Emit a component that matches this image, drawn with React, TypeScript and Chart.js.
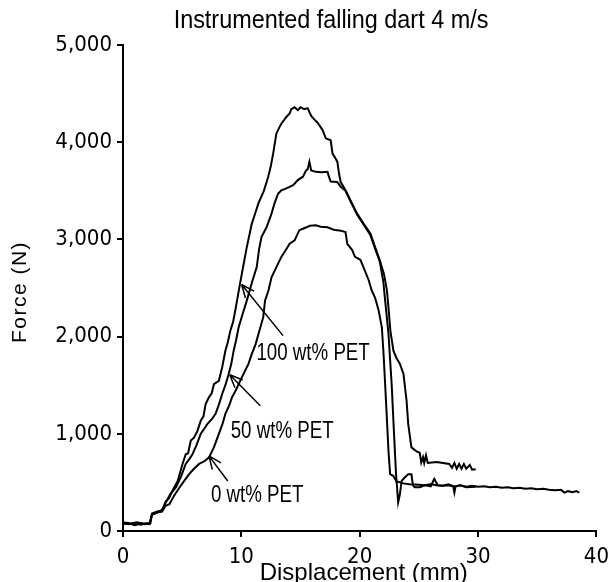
import React, { useEffect, useRef } from "react";
import { Chart, registerables } from "chart.js";

Chart.register(...registerables);

// ---- Data (displacement in mm, force in N) ----
const disp100 = [0, 0.5, 1.0, 1.5, 2.0, 2.3, 2.45, 2.9, 3.3, 3.6, 3.9, 4.2, 4.62, 5.03, 5.3, 5.5, 5.73, 6.0, 6.29, 6.57, 6.8, 6.98, 7.26, 7.5, 7.68, 8.1, 8.38, 8.65, 8.85, 9.07, 9.3, 9.49, 9.75, 10.04, 10.46, 10.88, 11.2, 11.44, 11.9, 12.27, 12.5, 12.69, 12.96, 13.2, 13.38, 13.8, 14.08, 14.22, 14.5, 14.77, 15.0, 15.3, 15.6, 15.9, 16.2, 16.44, 16.86, 17.14, 17.55, 17.7, 18.11, 18.25, 18.39, 18.8, 19.22, 19.78, 20.34, 20.9, 21.3, 21.7, 22.05, 22.3, 22.45, 22.6, 22.85, 23.1, 23.4, 23.7, 23.96, 24.1, 24.37, 24.8, 25.07, 25.2, 25.35, 25.45, 25.6, 25.75, 26.5, 27.57, 27.8, 28.0, 28.2, 28.4, 28.6, 28.8, 29.0, 29.3, 29.5, 29.8];
const force100 = [80, 70, 85, 65, 80, 75, 180, 200, 210, 300, 340, 420, 515, 690, 790, 800, 930, 960, 1030, 1135, 1180, 1305, 1375, 1420, 1510, 1545, 1685, 1855, 1940, 2060, 2150, 2270, 2450, 2645, 2920, 3160, 3280, 3370, 3500, 3645, 3760, 3885, 4090, 4150, 4190, 4260, 4295, 4340, 4360, 4330, 4360, 4340, 4350, 4270, 4230, 4200, 4125, 4040, 4020, 3885, 3800, 3680, 3590, 3505, 3400, 3265, 3160, 3060, 2920, 2785, 2645, 2475, 2270, 2050, 1855, 1780, 1720, 1615, 1340, 1100, 860, 820, 805, 705, 760, 700, 780, 700, 710, 690, 650, 700, 640, 690, 640, 690, 640, 680, 630, 635];

const disp50 = [0, 0.6, 1.2, 1.8, 2.3, 2.45, 2.9, 3.3, 3.6, 4.0, 4.48, 4.9, 5.3, 5.6, 5.87, 6.2, 6.57, 6.85, 7.12, 7.5, 7.82, 8.1, 8.38, 8.65, 8.93, 9.15, 9.35, 9.55, 9.77, 10.1, 10.46, 10.9, 11.3, 11.5, 11.7, 12.13, 12.55, 12.8, 13.1, 13.38, 13.7, 14.08, 14.4, 14.77, 15.2, 15.47, 15.6, 15.75, 15.9, 16.3, 16.8, 17.28, 17.4, 17.55, 18.1, 18.4, 18.8, 19.22, 19.78, 20.34, 20.9, 21.3, 21.7, 22.0, 22.15, 22.43, 22.7, 22.9, 23.07, 23.25, 23.4, 23.54, 23.8, 24.1, 24.37, 24.5, 24.65, 25.07, 25.5, 26.0, 26.3, 26.6, 27.0, 27.5, 28.0, 28.5, 29.0, 29.8];
const force50 = [90, 75, 90, 70, 80, 175, 195, 215, 290, 380, 450, 560, 690, 740, 790, 880, 1000, 1050, 1100, 1150, 1205, 1300, 1410, 1500, 1615, 1720, 1855, 1960, 2095, 2230, 2370, 2560, 2715, 2900, 3025, 3125, 3265, 3370, 3470, 3505, 3520, 3540, 3560, 3610, 3645, 3710, 3720, 3800, 3710, 3695, 3690, 3695, 3645, 3595, 3590, 3540, 3500, 3395, 3255, 3150, 3045, 2905, 2770, 2560, 2370, 2030, 1510, 1000, 585, 295, 380, 515, 550, 585, 585, 470, 450, 450, 470, 460, 535, 470, 465, 480, 455, 470, 450, 455];

const disp0 = [0, 0.4, 1.0, 1.6, 2.2, 2.45, 2.9, 3.3, 3.6, 3.92, 4.3, 4.76, 5.2, 5.59, 6.0, 6.43, 6.9, 7.26, 7.68, 8.1, 8.4, 8.65, 9.0, 9.21, 9.5, 9.77, 10.0, 10.32, 10.6, 10.88, 11.2, 11.44, 11.85, 12.0, 12.3, 12.55, 12.96, 13.38, 13.7, 14.08, 14.5, 14.9, 15.2, 15.8, 16.3, 16.7, 17.28, 17.8, 18.4, 18.8, 18.95, 19.37, 19.6, 20.06, 20.4, 20.76, 21.0, 21.3, 21.6, 21.87, 22.0, 22.15, 22.29, 22.43, 22.57, 22.85, 23.1, 23.4, 23.7, 24.2, 25.0, 25.5, 26.0, 26.5, 27.0, 27.5, 27.9, 28.0, 28.1, 28.5, 29.0, 29.5, 30.0, 30.5, 31.0, 31.5, 32.0, 32.5, 33.0, 33.5, 34.0, 34.5, 35.0, 35.5, 36.0, 36.5, 37.0, 37.3, 37.6, 38.0, 38.3, 38.56];
const force0 = [70, 85, 60, 80, 70, 165, 190, 200, 260, 275, 360, 445, 520, 585, 640, 690, 720, 755, 860, 1000, 1100, 1205, 1300, 1375, 1440, 1510, 1570, 1650, 1720, 1820, 1920, 2025, 2200, 2370, 2480, 2610, 2715, 2820, 2880, 2955, 2990, 3095, 3110, 3140, 3145, 3130, 3125, 3100, 3090, 3075, 2955, 2890, 2820, 2790, 2690, 2580, 2480, 2400, 2270, 2095, 1855, 1510, 1170, 825, 585, 565, 510, 500, 490, 480, 475, 470, 480, 470, 465, 470, 460, 395, 460, 470, 455, 465, 455, 460, 450, 455, 445, 450, 440, 445, 435, 440, 430, 435, 425, 420, 425, 395, 410, 400, 410, 395];

const seriesNames = ["100 wt% PET", "50 wt% PET", "0 wt% PET"];
// annotation anchors in data units: label left/middle, arrow tip, arrow tail
const labelX = [11.27, 9.1, 7.43];
const labelY = [1825, 1021, 371];
const arrowTipX = [10.02, 9.02, 7.26];
const arrowTipY = [2536, 1608, 773];
const arrowTailX = [13.52, 11.6, 8.85];
const arrowTailY = [2010, 1289, 515];

const xTicks = [0, 10, 20, 30, 40];
const yMax = 5000;

const chartTitle = "Instrumented falling dart 4 m/s";
const xTitle = "Displacement (mm)";
const yTitle = "Force (N)";

const CONDENSED = "'Liberation Sans Narrow', 'DejaVu Sans Condensed', 'Liberation Sans', sans-serif";
const REGULAR = "'Liberation Sans', Arial, sans-serif";

function pts(xs: number[], ys: number[]) {
  return xs.map((x, i) => ({ x, y: ys[i] }));
}

function squeezedText(ctx: CanvasRenderingContext2D, text: string, x: number, y: number, sx: number) {
  ctx.save();
  ctx.translate(x, y);
  ctx.scale(sx, 1);
  ctx.fillText(text, 0, 0);
  ctx.restore();
}

const annotPlugin = {
  id: "annot",
  afterDraw(chart: any) {
    const ctx = chart.ctx as CanvasRenderingContext2D;
    const xs = chart.scales.x;
    const ys = chart.scales.y;
    ctx.save();
    ctx.fillStyle = "#000";
    ctx.strokeStyle = "#000";
    // chart title
    ctx.font = `26px ${REGULAR}`;
    ctx.textAlign = "center";
    ctx.textBaseline = "middle";
    squeezedText(ctx, chartTitle, 331, 21, 0.9);
    // x axis title
    ctx.font = `24px ${REGULAR}`;
    ctx.fillText(xTitle, (chart.chartArea.left + chart.chartArea.right) / 2 + 4, 573);
    // y axis title
    ctx.save();
    ctx.translate(20, 292);
    ctx.rotate(-Math.PI / 2);
    ctx.font = `21px ${REGULAR}`;
    try { (ctx as any).letterSpacing = "1.5px"; } catch (e) {}
    ctx.fillText(yTitle, 0, 0);
    ctx.restore();
    // series labels and arrows
    ctx.font = `24px ${REGULAR}`;
    ctx.textAlign = "left";
    ctx.textBaseline = "middle";
    ctx.lineWidth = 1.5;
    for (let i = 0; i < seriesNames.length; i++) {
      squeezedText(ctx, seriesNames[i], xs.getPixelForValue(labelX[i]), ys.getPixelForValue(labelY[i]), 0.78);
      const tx = xs.getPixelForValue(arrowTipX[i]);
      const ty = ys.getPixelForValue(arrowTipY[i]);
      const sx = xs.getPixelForValue(arrowTailX[i]);
      const sy = ys.getPixelForValue(arrowTailY[i]);
      ctx.beginPath();
      ctx.moveTo(sx, sy);
      ctx.lineTo(tx, ty);
      const ang = Math.atan2(sy - ty, sx - tx);
      const hl = 14;
      ctx.moveTo(tx, ty);
      ctx.lineTo(tx + hl * Math.cos(ang + 0.4), ty + hl * Math.sin(ang + 0.4));
      ctx.moveTo(tx, ty);
      ctx.lineTo(tx + hl * Math.cos(ang - 0.4), ty + hl * Math.sin(ang - 0.4));
      ctx.stroke();
    }
    ctx.restore();
  },
};

export default function App() {
  const ref = useRef<HTMLCanvasElement | null>(null);
  useEffect(() => {
    if (!ref.current) return;
    const mk = (label: string, data: any) => ({
      label,
      data,
      showLine: true,
      borderColor: "#000",
      backgroundColor: "#000",
      borderWidth: 2,
      pointRadius: 0,
      tension: 0,
    });
    const chart = new Chart(ref.current, {
      type: "scatter",
      data: {
        datasets: [
          mk(seriesNames[0], pts(disp100, force100)),
          mk(seriesNames[1], pts(disp50, force50)),
          mk(seriesNames[2], pts(disp0, force0)),
        ],
      },
      options: {
        animation: false,
        responsive: false,
        devicePixelRatio: 1,
        layout: { padding: { top: 45, right: 14, left: 0, bottom: 0 } },
        plugins: { legend: { display: false }, tooltip: { enabled: false }, title: { display: false } },
        scales: {
          x: {
            type: "linear",
            min: 0,
            max: 40,
            afterFit: (s: any) => { s.height = 51; },
            afterBuildTicks: (s: any) => { s.ticks = xTicks.map((v) => ({ value: v })); },
            ticks: { color: "#000", font: { family: CONDENSED, size: 22 }, padding: 7, maxRotation: 0 },
            grid: { display: true, drawOnChartArea: false, drawTicks: true, tickLength: 6, color: "#000", lineWidth: 2 },
            border: { display: true, color: "#000", width: 2 },
          },
          y: {
            type: "linear",
            min: 0,
            max: yMax,
            afterFit: (s: any) => { s.width = 123; },
            ticks: {
              stepSize: 1000,
              color: "#000",
              font: { family: CONDENSED, size: 22 },
              padding: 5,
              callback: (v: any) => Number(v).toLocaleString("en-US"),
            },
            grid: { display: true, drawOnChartArea: false, drawTicks: true, tickLength: 6, color: "#000", lineWidth: 2 },
            border: { display: true, color: "#000", width: 2 },
          },
        },
      },
      plugins: [annotPlugin],
    });
    return () => chart.destroy();
  }, []);
  return (
    <div style={{ position: "fixed", left: 0, top: 0, width: 616, height: 582, background: "#fff" }}>
      <canvas ref={ref} width={616} height={582} style={{ display: "block", width: 616, height: 582 }} />
    </div>
  );
}
